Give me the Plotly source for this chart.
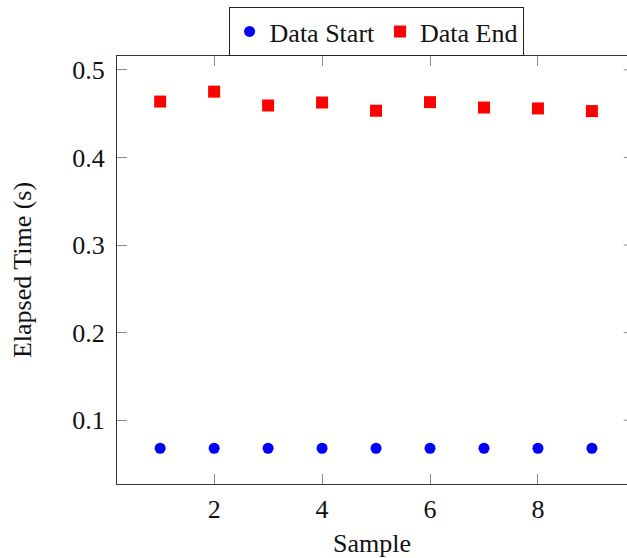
import plotly.graph_objects as go

samples = [1, 2, 3, 4, 5, 6, 7, 8, 9]
data_start = [0.068, 0.068, 0.068, 0.068, 0.068, 0.068, 0.068, 0.068, 0.068]
data_end = [0.4638, 0.4751, 0.4593, 0.4627, 0.4533, 0.4631, 0.4570, 0.4559, 0.4529]
x_ticks = [2, 4, 6, 8]
y_ticks = [0.1, 0.2, 0.3, 0.4, 0.5]

FONT = "Liberation Serif, serif"
FS = 26

fig = go.Figure()
fig.add_trace(go.Scatter(x=samples, y=data_start, mode="markers", name="Data Start",
                         marker=dict(symbol="circle", size=11, color="#0000ff")))
fig.add_trace(go.Scatter(x=samples, y=data_end, mode="markers", name="Data End",
                         marker=dict(symbol="square", size=12, color="#ff0000")))

axis_common = dict(showgrid=False, zeroline=False, showline=True, linecolor="#333333",
                   linewidth=1.2, ticks="inside", ticklen=10, tickcolor="#8a8a8a", tickwidth=1,
                   tickfont=dict(family=FONT, size=FS, color="#111111"))

fig.update_xaxes(range=[0.2, 9.65], tickvals=x_ticks, ticktext=[str(v) for v in x_ticks],
                 mirror="ticks", ticklabelstandoff=2,
                 title=dict(text="Sample", font=dict(family=FONT, size=FS, color="#111111"), standoff=16),
                 **axis_common)
fig.update_yaxes(range=[0.0272, 0.5158], tickvals=y_ticks, ticktext=[str(v) for v in y_ticks],
                 mirror=False, ticklabelstandoff=6,
                 title=dict(text="Elapsed Time (s)", font=dict(family=FONT, size=FS, color="#111111"), standoff=33),
                 **axis_common)

shapes = []
for v in y_ticks:
    shapes.append(dict(type="line", xref="paper", yref="y", x0=0.9935, x1=1.0, y0=v, y1=v,
                       line=dict(color="#8a8a8a", width=1)))

fig.update_layout(
    width=627, height=558,
    margin=dict(l=117, r=0, t=56, b=71),
    paper_bgcolor="white", plot_bgcolor="white",
    shapes=shapes,
    font=dict(family=FONT, size=FS, color="#111111"),
    legend=dict(orientation="h", x=0.508, xanchor="center", y=1.0, yanchor="bottom",
                bordercolor="#222222", borderwidth=1, bgcolor="white",
                font=dict(family=FONT, size=FS, color="#111111"),
                itemwidth=30, tracegroupgap=0),
    showlegend=True,
)

fig.write_html("out.html")
